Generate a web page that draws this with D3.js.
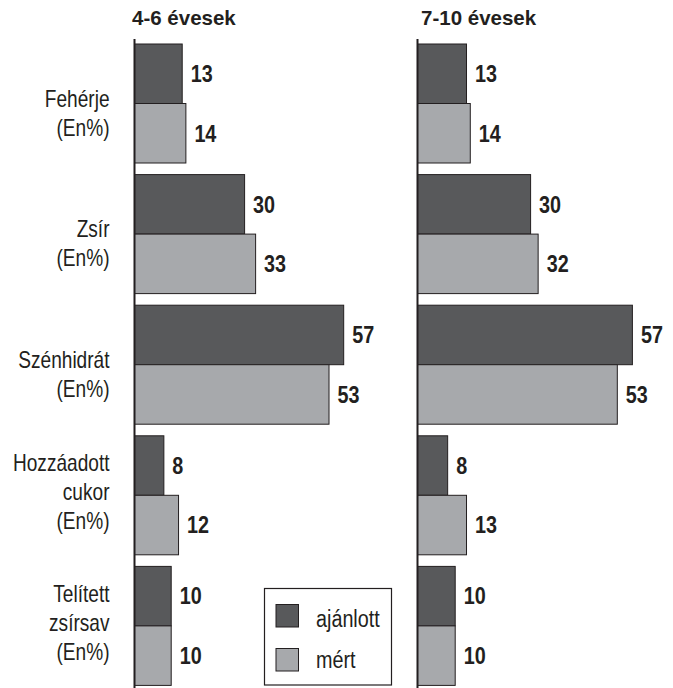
<!DOCTYPE html>
<html>
<head>
<meta charset="utf-8">
<script src="https://cdn.jsdelivr.net/npm/d3@7"></script>
<style>
  html, body { margin: 0; padding: 0; background: #fff; }
  svg { display: block; }
</style>
</head>
<body>
<svg id="chart" width="673" height="688"></svg>
<script>
// ---- data ----
const categories = ["Fehérje", "Zsír", "Szénhidrát", "Hozzáadott cukor", "Telített zsírsav"];
const categoryLines = [
  ["Fehérje", "(En%)"],
  ["Zsír", "(En%)"],
  ["Szénhidrát", "(En%)"],
  ["Hozzáadott", "cukor ", "(En%)"],
  ["Telített", "zsírsav", "(En%)"]
];
const seriesNames = ["ajánlott", "mért"];
const panelTitles = ["4-6 évesek", "7-10 évesek"];
const ajanlott_4_6 = [13, 30, 57, 8, 10];
const mert_4_6     = [14, 33, 53, 12, 10];
const ajanlott_7_10 = [13, 30, 57, 8, 10];
const mert_7_10     = [14, 32, 53, 13, 10];

// ---- style ----
const colors = { "ajánlott": "#58595b", "mért": "#a7a9ac" };
const ink = "#231f20";
const FONT = "'Liberation Sans', Arial, sans-serif";

const svg = d3.select("#chart");

const y = d3.scaleBand().domain(categories).range([44, 685.4]).paddingInner(0.0888).paddingOuter(0);
const ySub = d3.scaleBand().domain(seriesNames).range([0, y.bandwidth()]).padding(0);

const panels = [
  { title: panelTitles[0], axisX: 134.5, pxPerUnit: 3.67, titleX: 132, values: { "ajánlott": ajanlott_4_6, "mért": mert_4_6 } },
  { title: panelTitles[1], axisX: 417.5, pxPerUnit: 3.77, titleX: 421, values: { "ajánlott": ajanlott_7_10, "mért": mert_7_10 } }
];

function scaledText(sel, sx) {
  return sel.attr("transform", d => `translate(${d.x},${d.y}) scale(${sx},1)`);
}

panels.forEach(p => {
  const x = d3.scaleLinear().domain([0, 60]).range([p.axisX, p.axisX + p.pxPerUnit * 60]);
  const g = svg.append("g");

  const rows = [];
  categories.forEach((c, i) => {
    seriesNames.forEach(s => {
      rows.push({ cat: c, series: s, value: p.values[s][i] });
    });
  });

  g.selectAll("rect.bar").data(rows).enter().append("rect")
    .attr("class", "bar")
    .attr("x", x(0))
    .attr("y", d => y(d.cat) + ySub(d.series))
    .attr("width", d => x(d.value) - x(0))
    .attr("height", ySub.bandwidth())
    .attr("fill", d => colors[d.series])
    .attr("stroke", ink)
    .attr("stroke-width", 1);

  const labels = rows.map(d => ({
    text: String(d.value),
    x: x(d.value) + 8.5,
    y: y(d.cat) + ySub(d.series) + ySub.bandwidth() / 2 + 8.3
  }));
  scaledText(
    g.selectAll("text.val").data(labels).enter().append("text")
      .attr("class", "val")
      .attr("font-family", FONT)
      .attr("font-weight", "bold")
      .attr("font-size", 23)
      .attr("fill", ink)
      .text(d => d.text), 0.86);

  // axis line
  g.append("line")
    .attr("x1", p.axisX).attr("x2", p.axisX)
    .attr("y1", 39).attr("y2", 688)
    .attr("stroke", ink).attr("stroke-width", 2);

  // title
  g.append("text")
    .attr("x", p.titleX).attr("y", 25)
    .attr("font-family", FONT)
    .attr("font-weight", "bold")
    .attr("font-size", 20.5)
    .attr("fill", ink)
    .text(p.title);
});

// category labels
const catRows = [];
categories.forEach((c, i) => {
  const lines = categoryLines[i];
  const n = lines.length;
  const center = y(c) + y.bandwidth() / 2;
  lines.forEach((t, j) => {
    catRows.push({ text: t, x: 109.5, y: center + (j - Math.floor((n - 1) / 2)) * 29 + (n === 3 ? 5 : 3) });
  });
});
scaledText(
  svg.append("g").selectAll("text").data(catRows).enter().append("text")
    .attr("font-family", FONT)
    .attr("font-size", 23)
    .attr("text-anchor", "end")
    .attr("fill", ink)
    .text(d => d.text), 0.83);

// legend
const lg = svg.append("g");
lg.append("rect")
  .attr("x", 264.5).attr("y", 588.5).attr("width", 127).attr("height", 96.5)
  .attr("fill", "#fff").attr("stroke", ink).attr("stroke-width", 1.2);
const legRows = seriesNames.map((s, i) => ({ s, i }));
lg.selectAll("rect.sw").data(legRows).enter().append("rect")
  .attr("class", "sw")
  .attr("x", 276).attr("y", d => 604.5 + d.i * 44)
  .attr("width", 22.5).attr("height", 22.5)
  .attr("fill", d => colors[d.s]).attr("stroke", ink).attr("stroke-width", 1);
scaledText(
  lg.selectAll("text").data(legRows.map(d => ({ text: d.s, x: 316, y: 626.5 + d.i * 41.5 }))).enter().append("text")
    .attr("font-family", FONT)
    .attr("font-size", 23)
    .attr("fill", ink)
    .text(d => d.text), 0.86);
</script>
</body>
</html>
